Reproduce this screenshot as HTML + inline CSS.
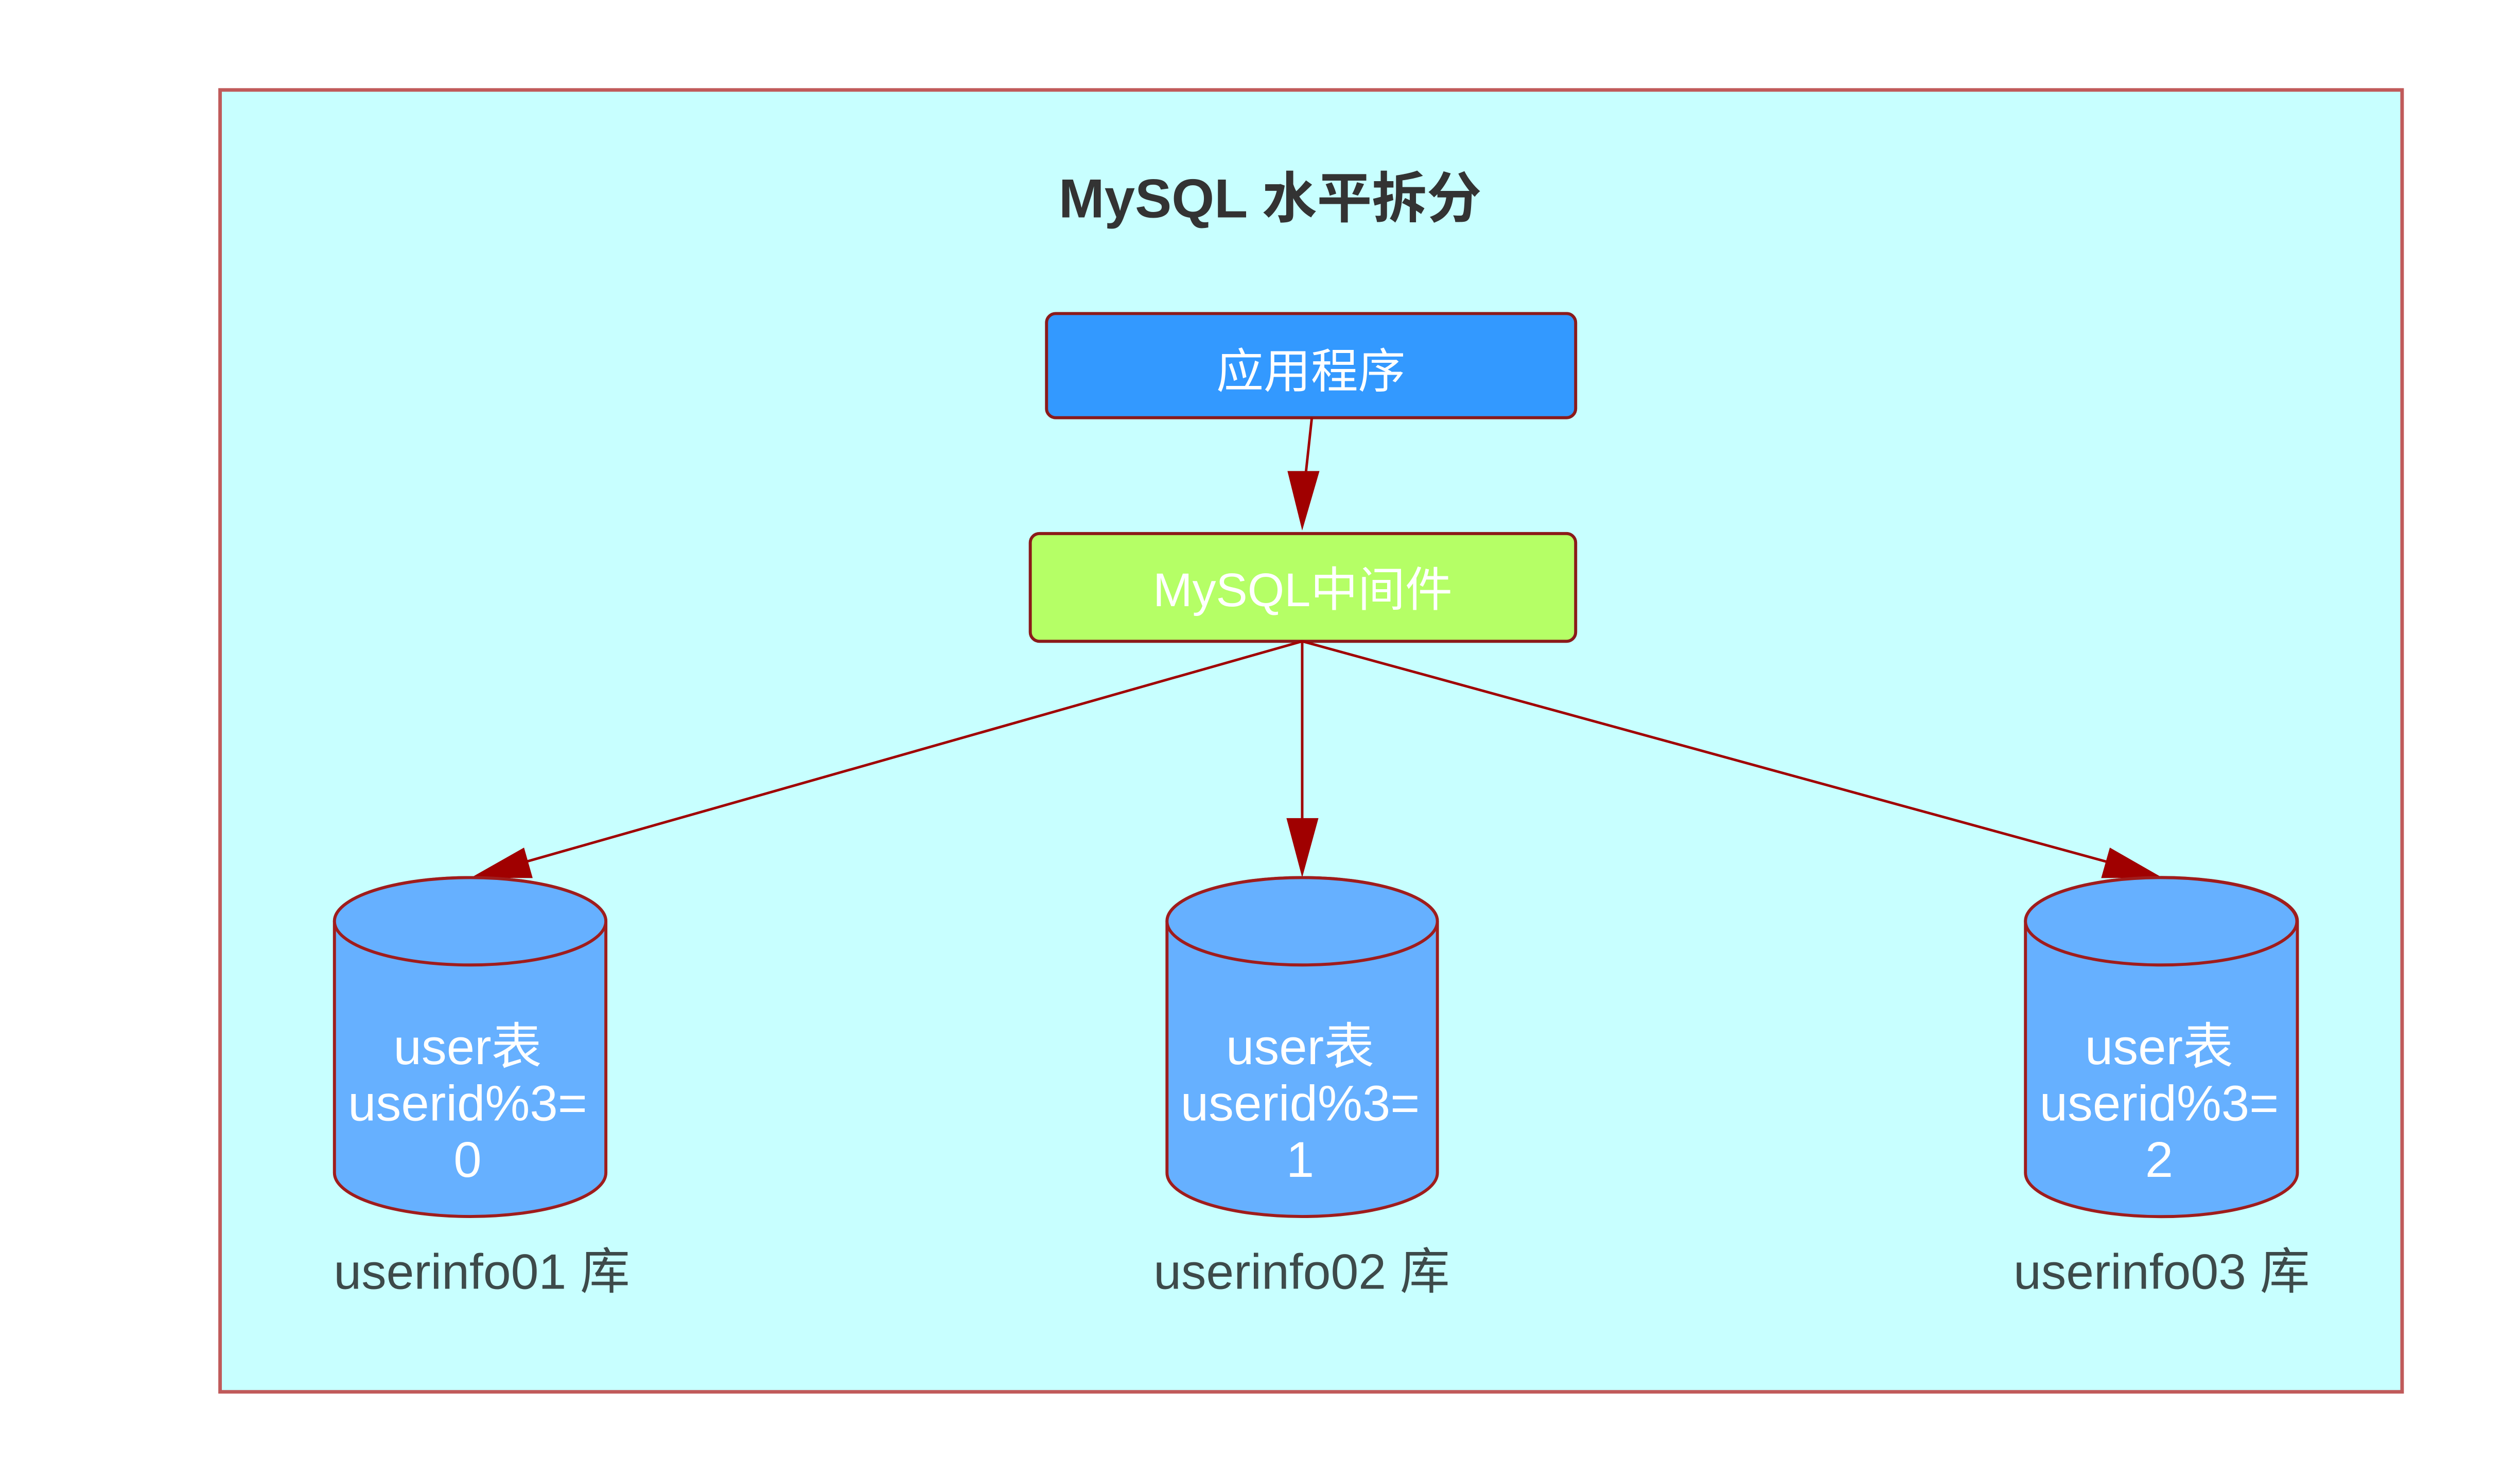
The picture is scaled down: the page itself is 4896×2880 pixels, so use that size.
<!DOCTYPE html>
<html><head><meta charset="utf-8"><style>
html,body{margin:0;padding:0;background:#fff;}
svg{display:block;}
text{font-family:"Liberation Sans","Noto Sans CJK SC",sans-serif;}
</style></head><body>
<svg width="4896" height="2880" viewBox="0 0 4896 2880" xmlns="http://www.w3.org/2000/svg">
<rect x="0" y="0" width="4896" height="2880" fill="#fff"/>
<g transform="scale(0.9875)">
<rect x="433" y="177" width="4293" height="2562" fill="#c8ffff" stroke="#c05a5a" stroke-width="7"/>
<text x="2499" y="428" font-size="108" font-weight="bold" fill="#333" text-anchor="middle">MySQL 水平拆分</text>

<rect x="2059" y="617" width="1041" height="205" rx="18" fill="#3399ff" stroke="#8b1a1a" stroke-width="6"/>
<text x="2579" y="763" font-size="93" fill="#fff" text-anchor="middle">应用程序</text>

<rect x="2027" y="1050" width="1073" height="212" rx="18" fill="#b5ff66" stroke="#8b1a1a" stroke-width="6"/>
<text x="2563" y="1193" font-size="93" fill="#fff" text-anchor="middle">MySQL中间件</text>

<g stroke="#a00000" stroke-width="5" fill="none">
<line x1="2581" y1="822" x2="2566" y2="960"/>
<line x1="2562" y1="1262" x2="1020" y2="1700"/>
<line x1="2562" y1="1262" x2="2562" y2="1620"/>
<line x1="2562" y1="1262" x2="4160" y2="1700"/>
</g>
<g fill="#a00000">
<polygon points="2562,1044 2533,927 2596,927"/>
<polygon points="927,1727 1031,1668 1048,1728"/>
<polygon points="2562,1727 2531,1610 2594,1610"/>
<polygon points="4254,1727 4134,1728 4151,1668"/>
</g>

<g stroke="#a01c1c" stroke-width="6" fill="#66b0ff">
<path d="M658,1813 L658,2308 A267,86 0 0 0 1192,2308 L1192,1813 A267,86 0 0 0 658,1813 Z"/>
<ellipse cx="925" cy="1813" rx="267" ry="86"/>
<path d="M2296,1813 L2296,2308 A266,86 0 0 0 2828,2308 L2828,1813 A266,86 0 0 0 2296,1813 Z"/>
<ellipse cx="2562" cy="1813" rx="266" ry="86"/>
<path d="M3985,1813 L3985,2308 A267,86 0 0 0 4520,2308 L4520,1813 A267,86 0 0 0 3985,1813 Z"/>
<ellipse cx="4252" cy="1813" rx="267" ry="86"/>
</g>

<g font-size="99" fill="#fff" text-anchor="middle">
<text x="920" y="2094">user表</text>
<text x="920" y="2205">userid%3=</text>
<text x="920" y="2316">0</text>
<text x="2558" y="2094">user表</text>
<text x="2558" y="2205">userid%3=</text>
<text x="2558" y="2316">1</text>
<text x="4248" y="2094">user表</text>
<text x="4248" y="2205">userid%3=</text>
<text x="4248" y="2316">2</text>
</g>
<g font-size="98" fill="#3d4a4a" text-anchor="middle">
<text x="948" y="2536">userinfo01 库</text>
<text x="2561" y="2536">userinfo02 库</text>
<text x="4253" y="2536">userinfo03 库</text>
</g>
</g>
</svg>
</body></html>
